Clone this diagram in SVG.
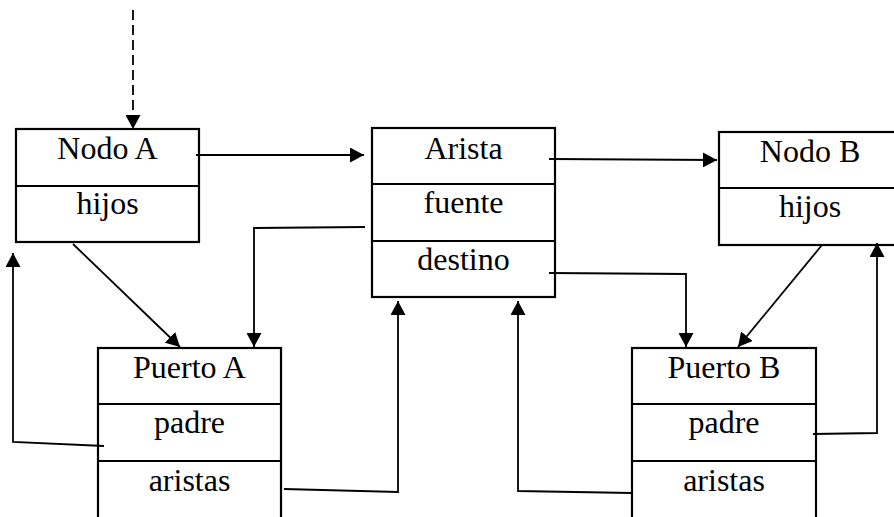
<svg xmlns="http://www.w3.org/2000/svg" width="894" height="517" viewBox="0 0 894 517">
  <defs>
    <marker id="arrow" markerUnits="userSpaceOnUse" markerWidth="15" markerHeight="15" refX="14" refY="7.5" orient="auto">
      <path d="M0,0 L14,7.5 L0,15 z" fill="#000"/>
    </marker>
    <style>
      .box { fill: #fff; stroke: #000; stroke-width: 2.2; }
      .div { stroke: #000; stroke-width: 2.2; }
      .lbl { font-family: "Liberation Serif", "DejaVu Serif", serif; font-size: 32px; fill: #000; text-anchor: middle; }
      .conn { fill: none; stroke: #000; stroke-width: 1.8; marker-end: url(#arrow); }
      .dash { stroke-dasharray: 10 5; }
    </style>
  </defs>
  <rect width="894" height="517" fill="#fff"/>

  <!-- Nodo A -->
  <g id="nodo-a">
    <rect class="box" x="16" y="129" width="183" height="113"/>
    <line class="div" x1="16" y1="186" x2="199" y2="186"/>
    <text class="lbl" x="107.5" y="159">Nodo A</text>
    <text class="lbl" x="107.5" y="214">hijos</text>
  </g>

  <!-- Arista -->
  <g id="arista">
    <rect class="box" x="372" y="128" width="183" height="169"/>
    <line class="div" x1="372" y1="184" x2="555" y2="184"/>
    <line class="div" x1="372" y1="241" x2="555" y2="241"/>
    <text class="lbl" x="463.5" y="159">Arista</text>
    <text class="lbl" x="463.5" y="213">fuente</text>
    <text class="lbl" x="463.5" y="270">destino</text>
  </g>

  <!-- Nodo B -->
  <g id="nodo-b">
    <rect class="box" x="719" y="132" width="183" height="113"/>
    <line class="div" x1="719" y1="188" x2="902" y2="188"/>
    <text class="lbl" x="810" y="162">Nodo B</text>
    <text class="lbl" x="810" y="217">hijos</text>
  </g>

  <!-- Puerto A -->
  <g id="puerto-a">
    <rect class="box" x="98" y="348" width="183" height="185"/>
    <line class="div" x1="98" y1="404" x2="281" y2="404"/>
    <line class="div" x1="98" y1="461" x2="281" y2="461"/>
    <text class="lbl" x="189.5" y="378">Puerto A</text>
    <text class="lbl" x="189.5" y="433">padre</text>
    <text class="lbl" x="189.5" y="491">aristas</text>
  </g>

  <!-- Puerto B -->
  <g id="puerto-b">
    <rect class="box" x="632" y="348" width="184" height="185"/>
    <line class="div" x1="632" y1="404" x2="816" y2="404"/>
    <line class="div" x1="632" y1="461" x2="816" y2="461"/>
    <text class="lbl" x="724" y="378">Puerto B</text>
    <text class="lbl" x="724" y="433">padre</text>
    <text class="lbl" x="724" y="491">aristas</text>
  </g>

  <!-- Connectors (drawn over the boxes; some start inside a field) -->
  <g id="connectors">
    <line class="conn dash" x1="133" y1="10" x2="133" y2="129"/>
    <line class="conn" x1="196" y1="155" x2="364" y2="155"/>
    <polyline class="conn" points="549,159 717,160"/>
    <polyline class="conn" points="365,227 254,228 254,347"/>
    <polyline class="conn" points="549,273 686,274 686,347"/>
    <line class="conn" x1="73" y1="244" x2="180" y2="347"/>
    <line class="conn" x1="822" y1="245" x2="738" y2="347"/>
    <polyline class="conn" points="104,446 13,442 13,253"/>
    <polyline class="conn" points="284,489 398,492 398,301"/>
    <polyline class="conn" points="632,493 518,491 518,301"/>
    <polyline class="conn" points="813,434 877,433 877,243"/>
  </g>
</svg>
